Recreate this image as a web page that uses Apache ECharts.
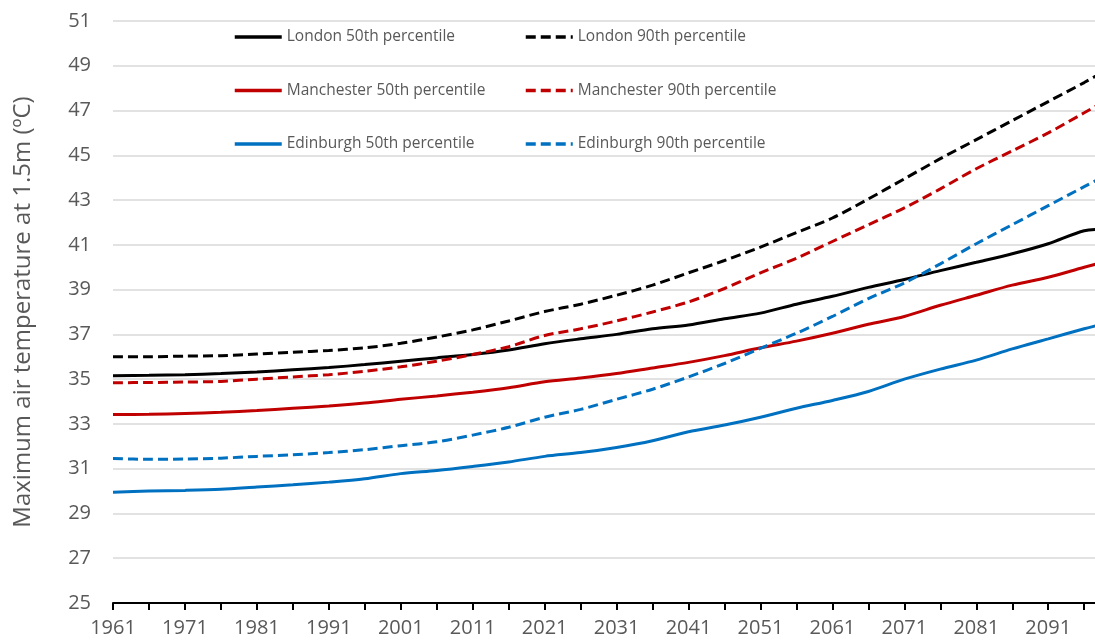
<!DOCTYPE html>
<style>
body {margin: 0;}
#div_echart {height: 643px; width: 1095px;}
</style>
<script src='https://cdn.jsdelivr.net/npm/echarts@6/dist/echarts.min.js'></script>
<div id='div_echart'></div>
<script>
let years = [1961, 1966, 1971, 1976, 1981, 1986, 1991, 1996, 2001, 2006, 2011, 2016, 2021, 2026, 2031, 2036, 2041, 2046, 2051, 2056, 2061, 2066, 2071, 2076, 2081, 2086, 2091, 2096, 2099]
let london_50 = [35.15, 35.17, 35.2, 35.25, 35.32, 35.42, 35.52, 35.65, 35.8, 35.95, 36.1, 36.3, 36.58, 36.8, 37.0, 37.25, 37.42, 37.7, 37.95, 38.35, 38.7, 39.1, 39.45, 39.85, 40.22, 40.6, 41.05, 41.63, 41.7]
let london_90 = [36.0, 36.0, 36.03, 36.05, 36.12, 36.2, 36.28, 36.4, 36.6, 36.88, 37.2, 37.6, 38.02, 38.35, 38.75, 39.2, 39.75, 40.3, 40.9, 41.55, 42.2, 43.05, 43.95, 44.85, 45.7, 46.55, 47.4, 48.25, 48.8]
let manchester_50 = [33.42, 33.43, 33.47, 33.52, 33.6, 33.7, 33.8, 33.93, 34.1, 34.25, 34.42, 34.62, 34.88, 35.05, 35.25, 35.5, 35.75, 36.05, 36.4, 36.7, 37.05, 37.45, 37.8, 38.3, 38.75, 39.2, 39.55, 40.0, 40.25]
let manchester_90 = [34.84, 34.85, 34.87, 34.9, 35.0, 35.1, 35.2, 35.35, 35.55, 35.8, 36.1, 36.45, 36.95, 37.25, 37.6, 38.0, 38.45, 39.05, 39.75, 40.4, 41.15, 41.9, 42.65, 43.5, 44.4, 45.2, 46.0, 46.9, 47.45]
let edinburgh_50 = [29.95, 30.0, 30.03, 30.08, 30.18, 30.28, 30.4, 30.55, 30.78, 30.92, 31.1, 31.3, 31.55, 31.72, 31.95, 32.25, 32.65, 32.95, 33.3, 33.7, 34.05, 34.45, 35.0, 35.45, 35.85, 36.35, 36.8, 37.25, 37.5]
let edinburgh_90 = [31.45, 31.42, 31.43, 31.47, 31.55, 31.62, 31.72, 31.85, 32.03, 32.2, 32.5, 32.85, 33.3, 33.65, 34.1, 34.55, 35.1, 35.7, 36.38, 37.05, 37.8, 38.6, 39.3, 40.15, 41.05, 41.9, 42.75, 43.6, 44.1]
let x_ticks = [1961, 1966, 1971, 1976, 1981, 1986, 1991, 1996, 2001, 2006, 2011, 2016, 2021, 2026, 2031, 2036, 2041, 2046, 2051, 2056, 2061, 2066, 2071, 2076, 2081, 2086, 2091, 2096]
let x_labels = [1961, 1971, 1981, 1991, 2001, 2011, 2021, 2031, 2041, 2051, 2061, 2071, 2081, 2091]

let font = 'Open Sans'
let grey = '#595959'
let black = '#000000'
let red = '#C00000'
let blue = '#0070C0'

function line(name, values, color, dashed) {
	return {
		name, type: 'line', symbol: 'none', smooth: 0.3,
		data: years.map((y, i) => [y, values[i]]),
		lineStyle: {color, width: 3, type: dashed ? [10, 5] : 'solid'},
		itemStyle: {color}
	}
}

let echart = echarts.init(document.getElementById('div_echart'))
let legend_base = {
	orient: 'vertical', itemWidth: 47, itemHeight: 14, itemGap: 37.5, top: 24,
	itemStyle: {opacity: 0},
	lineStyle: {width: 3.5},
	textStyle: {fontFamily: font, fontSize: 15.5, color: grey, padding: [0, 0, 0, 0]}
}
echart.setOption({
	animation: false,
	textStyle: {fontFamily: font},
	grid: {left: 113, right: 0, top: 21, bottom: 40},
	legend: [
		Object.assign({left: 228, data: ['London 50th percentile', 'Manchester 50th percentile', 'Edinburgh 50th percentile']}, legend_base),
		Object.assign({left: 519, data: ['London 90th percentile', 'Manchester 90th percentile', 'Edinburgh 90th percentile']}, legend_base)
	],
	xAxis: {
		type: 'value', min: 1961, max: 2097.5,
		axisLine: {lineStyle: {color: '#000', width: 2}},
		axisTick: {show: true, inside: false, length: 7, customValues: x_ticks, lineStyle: {color: '#000', width: 2}},
		axisLabel: {customValues: x_labels, formatter: v => String(v), fontSize: 20, color: grey, margin: 15, fontFamily: font},
		splitLine: {show: false}
	},
	yAxis: {
		type: 'value', min: 25, max: 51, interval: 2,
		name: 'Maximum air temperature at 1.5m (ºC)', nameLocation: 'middle', nameGap: 78,
		nameTextStyle: {fontSize: 24, color: grey, fontFamily: font},
		axisLine: {show: false}, axisTick: {show: false},
		axisLabel: {fontSize: 20, color: grey, margin: 22, fontFamily: font},
		splitLine: {lineStyle: {color: '#d9d9d9', width: 1.5}}
	},
	series: [
		line('London 50th percentile', london_50, black, false),
		line('London 90th percentile', london_90, black, true),
		line('Manchester 50th percentile', manchester_50, red, false),
		line('Manchester 90th percentile', manchester_90, red, true),
		line('Edinburgh 50th percentile', edinburgh_50, blue, false),
		line('Edinburgh 90th percentile', edinburgh_90, blue, true)
	]
})
</script>
